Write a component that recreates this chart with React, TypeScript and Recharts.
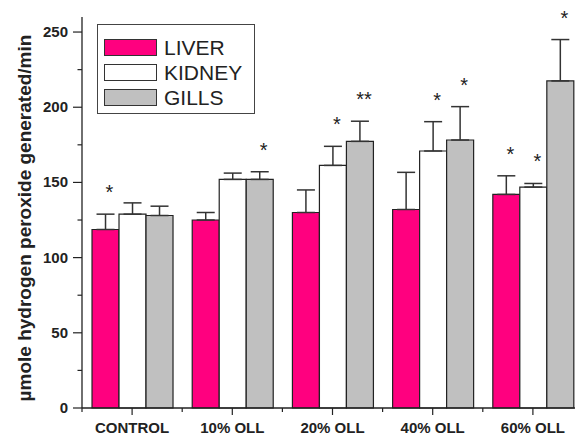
import { Bar, BarChart, ErrorBar, LabelList, Legend, XAxis, YAxis } from "recharts";

const groups = ["CONTROL", "10% OLL", "20% OLL", "40% OLL", "60% OLL"];
const seriesNames = ["LIVER", "KIDNEY", "GILLS"];
const liver = [118.7, 125, 130, 132, 142];
const liverErr = [10.2, 5, 15, 24.7, 12.4];
const kidney = [128.9, 152, 161.3, 170.9, 146.9];
const kidneyErr = [7.5, 4.2, 12.7, 19.5, 2.4];
const gills = [128, 152, 177.3, 178.2, 217.5];
const gillsErr = [6.2, 5.1, 13.4, 22.2, 27.5];
const liverMarks = ["*", "", "", "", "*"];
const kidneyMarks = ["", "", "*", "*", "*"];
const gillsMarks = ["", "*", "**", "*", "*"];
const yTicks = [0, 25, 50, 75, 100, 125, 150, 175, 200, 225, 250];

const FONT = "'Liberation Sans', Arial, sans-serif";
const INK = "#222";
const BAND = 100.2; // category width in px, (600 - 17 - 82) / 5

const rows = groups.map((name, i) => ({
  name,
  liver: liver[i],
  liverErr: [0, liverErr[i]],
  kidney: kidney[i],
  kidneyErr: [0, kidneyErr[i]],
  gills: gills[i],
  gillsErr: [0, gillsErr[i]],
}));

function YTick({ x, y, payload }: any) {
  const major = payload.value % 50 === 0;
  return (
    <g>
      <line x1={x - (major ? 9 : 4.5)} x2={x} y1={y} y2={y} stroke={INK} strokeWidth={1.2} />
      {major && (
        <text x={x - 14} y={y + 5} textAnchor="end" fontSize={15} fontWeight="bold" fontFamily={FONT} fill={INK}>
          {payload.value}
        </text>
      )}
    </g>
  );
}

function XTick({ x, y, payload, index }: any) {
  return (
    <g>
      <line x1={x} x2={x} y1={y} y2={y + 7} stroke={INK} strokeWidth={1.2} />
      <line x1={x + BAND / 2} x2={x + BAND / 2} y1={y} y2={y + 4} stroke={INK} strokeWidth={1.2} />
      {index === 0 && <line x1={x - BAND / 2} x2={x - BAND / 2} y1={y} y2={y + 4} stroke={INK} strokeWidth={1.2} />}
      <text x={x} y={y + 25} textAnchor="middle" fontSize={15} fontWeight="bold" fontFamily={FONT} fill={INK}>
        {payload.value}
      </text>
    </g>
  );
}

// significance marks sit a fixed distance above the top of each error bar
function marks(labels: string[], errs: number[]) {
  return (props: any) => {
    const { x, y, width, height, value, index } = props;
    const label = labels[index];
    if (!label) return null;
    const errTop = y - errs[index] * (height / value);
    return (
      <text x={x + width / 2 + 4} y={errTop - 15} textAnchor="middle" fontSize={20} fontFamily={FONT} fill={INK}>
        {label}
      </text>
    );
  };
}

function LegendBox({ payload }: any) {
  // recharts sorts legend items by name; keep the series order instead
  const items = [...(payload ?? [])].sort(
    (a: any, b: any) => seriesNames.indexOf(a.value) - seriesNames.indexOf(b.value)
  );
  return (
    <div
      style={{
        width: 158,
        height: 90,
        border: "1px solid #444",
        background: "#fff",
        fontFamily: FONT,
        fontSize: 21,
        color: INK,
        paddingTop: 10,
        boxSizing: "border-box",
      }}
    >
      {items.map((entry: any) => (
        <div key={entry.value} style={{ display: "flex", alignItems: "center", height: 25, marginLeft: 6 }}>
          <span
            style={{
              width: 53,
              height: 17,
              background: entry.payload?.fill ?? entry.color,
              border: "1px solid #333",
              boxSizing: "border-box",
              marginRight: 7,
            }}
          />
          <span style={{ lineHeight: "21px" }}>{entry.value}</span>
        </div>
      ))}
    </div>
  );
}

export default function App() {
  return (
    <div style={{ position: "fixed", left: 0, top: 0, width: 575, height: 435, overflow: "hidden", background: "#fff" }}>
      <BarChart
        width={600}
        height={435}
        data={rows}
        margin={{ top: 17, right: 17, left: 0, bottom: 0 }}
        barCategoryGap="10%"
        barGap={0}
      >
        <XAxis
          dataKey="name"
          height={27}
          tickSize={0}
          tickMargin={0}
          tickLine={false}
          axisLine={{ stroke: INK, strokeWidth: 1.3 }}
          tick={<XTick />}
          interval={0}
        />
        <YAxis
          width={82}
          domain={[0, 260]}
          ticks={yTicks}
          tickSize={0}
          tickMargin={0}
          tickLine={false}
          axisLine={{ stroke: INK, strokeWidth: 1.3 }}
          tick={<YTick />}
          interval={0}
          label={{
            content: () => (
              <text
                x={31}
                y={218}
                transform="rotate(-90 31 218)"
                textAnchor="middle"
                fontSize={19}
                fontWeight="bold"
                fontFamily={FONT}
                fill={INK}
              >
                µmole hydrogen peroxide generated/min
              </text>
            ),
          }}
        />
        <Legend
          layout="vertical"
          verticalAlign="middle"
          align="center"
          content={<LegendBox />}
          wrapperStyle={{ position: "absolute", left: 97, top: 24, width: 158, height: 90 }}
        />
        <Bar dataKey="liver" name="LIVER" fill="#ff007f" stroke={INK} strokeWidth={1.2} isAnimationActive={false}>
          <ErrorBar dataKey="liverErr" direction="y" width={9} stroke="#333" strokeWidth={1.5} />
          <LabelList dataKey="liver" content={marks(liverMarks, liverErr)} />
        </Bar>
        <Bar dataKey="kidney" name="KIDNEY" fill="#ffffff" stroke={INK} strokeWidth={1.2} isAnimationActive={false}>
          <ErrorBar dataKey="kidneyErr" direction="y" width={9} stroke="#333" strokeWidth={1.5} />
          <LabelList dataKey="kidney" content={marks(kidneyMarks, kidneyErr)} />
        </Bar>
        <Bar dataKey="gills" name="GILLS" fill="#c0c0c0" stroke={INK} strokeWidth={1.2} isAnimationActive={false}>
          <ErrorBar dataKey="gillsErr" direction="y" width={9} stroke="#333" strokeWidth={1.5} />
          <LabelList dataKey="gills" content={marks(gillsMarks, gillsErr)} />
        </Bar>
      </BarChart>
    </div>
  );
}
